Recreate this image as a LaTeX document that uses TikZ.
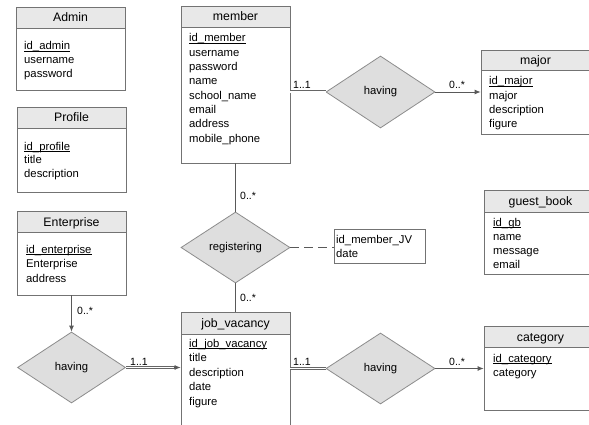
\documentclass[tikz,border=0pt]{standalone}
\usepackage{fontspec}
\setmainfont{Liberation Sans}
\usetikzlibrary{shapes.geometric,arrows.meta}
\newcommand{\keyattr}[1]{\underline{\smash{#1}}}
\tikzset{
 ln/.style={draw=black!65, line width=0.8pt},
 ebox/.style={draw=black!55, line width=0.8pt, rectangle, inner sep=0pt},
 hdr/.style={fill=black!9, draw=black!55, line width=0.8pt},
 rel/.style={diamond, draw=black!45, fill=black!13, inner sep=0pt, line width=0.8pt, font=\fontsize{11.3}{13}\selectfont},
 attr/.style={anchor=base west, inner sep=0pt, font=\fontsize{11.3}{13}\selectfont},
 ttl/.style={anchor=base, inner sep=0pt, font=\fontsize{12.3}{14}\selectfont},
 card/.style={anchor=base west, inner sep=0pt, font=\fontsize{10.5}{12}\selectfont},
 arr/.style={-{Latex[length=6pt,width=5pt]}},
 dbl/.style={draw=black!60, line width=0.7pt, double=white, double distance=1.6pt},
}
\begin{document}
\begin{tikzpicture}[x=1pt,y=-1pt]
\useasboundingbox (0,0) rectangle (589,425);
\fill[white] (0,0) rectangle (589,425);

% ---------- Admin
\draw[hdr] (16,7) rectangle (125,28);
\node[ebox, minimum width=109pt, minimum height=83pt] (admin) at (70.5,48.5) {};
\node[ttl] (admin-t) at (70.5,22) {Admin};
\foreach \t [count=\i from 0] in {\keyattr{id\_admin},username,password}
  \node[attr] (admin-a\i) at (24,{50+14*\i}) {\t};

% ---------- Profile
\draw[hdr] (17,107) rectangle (126,128);
\node[ebox, minimum width=109pt, minimum height=85pt] (profile) at (71.5,149.5) {};
\node[ttl] (profile-t) at (71.5,122) {Profile};
\foreach \t [count=\i from 0] in {\keyattr{id\_profile},title,description}
  \node[attr] (profile-a\i) at (24,{150+14*\i}) {\t};

% ---------- member
\draw[hdr] (181,6) rectangle (290,27);
\node[ebox, minimum width=109pt, minimum height=157pt] (member) at (235.5,84.5) {};
\node[ttl] (member-t) at (235.5,21) {member};
\foreach \t [count=\i from 0] in {\keyattr{id\_member},username,password,name,school\_name,email,address,mobile\_phone}
  \node[attr] (member-a\i) at (189,{42+14.3*\i}) {\t};

% ---------- major
\draw[hdr] (481,50) rectangle (590,70);
\node[ebox, minimum width=109pt, minimum height=84pt] (major) at (535.5,92) {};
\node[ttl] (major-t) at (535.5,64.5) {major};
\foreach \t [count=\i from 0] in {\keyattr{id\_major},major,description,figure}
  \node[attr] (major-a\i) at (489,{85+14.3*\i}) {\t};

% ---------- guest_book
\draw[hdr] (484,190) rectangle (597,212);
\node[ebox, minimum width=113pt, minimum height=84pt] (guest) at (540.5,232) {};
\node[ttl] (guest-t) at (540.5,205.5) {guest\_book};
\foreach \t [count=\i from 0] in {\keyattr{id\_gb},name,message,email}
  \node[attr] (guest-a\i) at (493,{226+14*\i}) {\t};

% ---------- category
\draw[hdr] (484,326) rectangle (597,347);
\node[ebox, minimum width=113pt, minimum height=84pt] (cat) at (540.5,368) {};
\node[ttl] (cat-t) at (540.5,341) {category};
\foreach \t [count=\i from 0] in {\keyattr{id\_category},category}
  \node[attr] (cat-a\i) at (493,{362+14*\i}) {\t};

% ---------- job_vacancy
\draw[hdr] (181,312) rectangle (290,334);
\node[ebox, minimum width=109pt, minimum height=128pt] (jv) at (235.5,376) {};
\node[ttl] (jv-t) at (235.5,327.5) {job\_vacancy};
\foreach \t [count=\i from 0] in {\keyattr{id\_job\_vacancy},title,description,date,figure}
  \node[attr] (jv-a\i) at (189,{347+14.5*\i}) {\t};

% ---------- Enterprise
\draw[hdr] (17,211) rectangle (126,232);
\node[ebox, minimum width=109pt, minimum height=84pt] (ent) at (71.5,253) {};
\node[ttl] (ent-t) at (71.5,226) {Enterprise};
\foreach \t [count=\i from 0] in {\keyattr{id\_enterprise},Enterprise,address}
  \node[attr] (ent-a\i) at (26,{253+14.5*\i}) {\t};

% ---------- relationship attribute box
\node[ebox, minimum width=91pt, minimum height=34pt] (jvattr) at (379.5,246) {};
\node[attr] (jvattr-a0) at (336,243) {id\_member\_JV};
\node[attr] (jvattr-a1) at (336,257) {date};

% ---------- relationships
\node[rel, minimum width=109pt, minimum height=72pt] (d1) at (380.5,92) {having};
\node[rel, minimum width=109pt, minimum height=71pt] (reg) at (235.5,247.5) {registering};
\node[rel, minimum width=108pt, minimum height=71pt] (d2) at (71.5,367.5) {having};
\node[rel, minimum width=109pt, minimum height=71pt] (d3) at (380.5,368.5) {having};

% ---------- connectors
\draw[dbl] (d1.west -| member.east) -- (d1.west);
\draw[ln,arr] (d1.east) -- (d1.east -| major.west);
\draw[ln] (reg.north |- member.south) -- (reg.north);
\draw[ln] (reg.south) -- (reg.south |- jv.north);
\draw[ln, dash pattern=on 9pt off 5pt] (reg.east) -- (reg.east -| jvattr.west);
\draw[ln,arr] (ent.south) -- (ent.south |- d2.north);
\draw[dbl, shorten >=5pt] (d2.east) -- (d2.east -| jv.west);
\draw[ln,arr] ([xshift=-7pt]d2.east -| jv.west) -- (d2.east -| jv.west);
\draw[dbl] (d3.west -| jv.east) -- (d3.west);
\draw[ln,arr] (d3.east) -- (d3.east -| cat.west);

% ---------- cardinalities
\node[card] (c1) at (293,89) {1..1};
\node[card] (c2) at (449,89) {0..*};
\node[card] (c3) at (240,199) {0..*};
\node[card] (c4) at (240,301) {0..*};
\node[card] (c5) at (77,314) {0..*};
\node[card] (c6) at (130,365) {1..1};
\node[card] (c7) at (293,365) {1..1};
\node[card] (c8) at (449,365) {0..*};
\end{tikzpicture}
\end{document}
